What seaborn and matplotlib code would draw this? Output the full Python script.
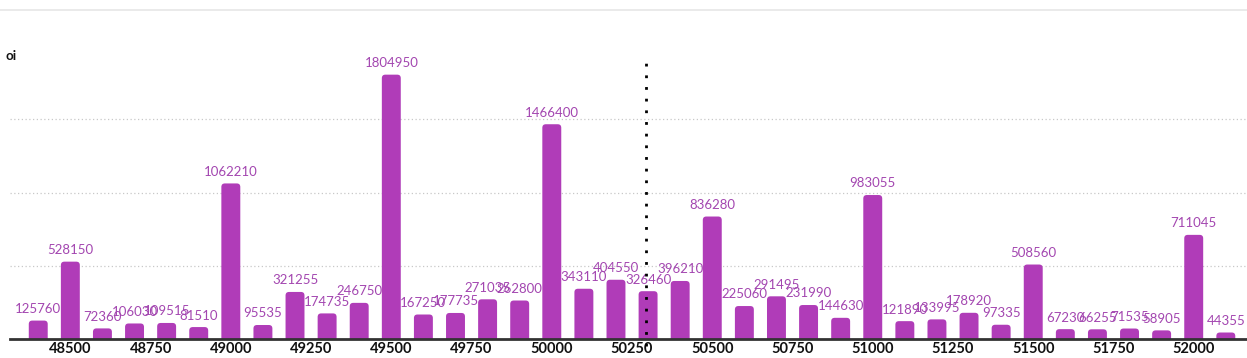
import matplotlib
matplotlib.use("Agg")
import matplotlib.pyplot as plt
import seaborn as sns
import pandas as pd
from matplotlib.lines import Line2D
from matplotlib.patches import FancyBboxPatch

strikes = [48400, 48500, 48600, 48700, 48800, 48900, 49000, 49100, 49200, 49300,
           49400, 49500, 49600, 49700, 49800, 49900, 50000, 50100, 50200, 50300,
           50400, 50500, 50600, 50700, 50800, 50900, 51000, 51100, 51200, 51300,
           51400, 51500, 51600, 51700, 51800, 51900, 52000, 52100]
oi = [125760, 528150, 72360, 106030, 109515, 81510, 1062210, 95535, 321255, 174735,
      246750, 1804950, 167250, 177735, 271035, 262800, 1466400, 343110, 404550, 326460,
      396210, 836280, 225060, 291495, 231990, 144630, 983055, 121890, 133995, 178920,
      97335, 508560, 67230, 66255, 71535, 58905, 711045, 44355]
tick_values = [48500, 48750, 49000, 49250, 49500, 49750, 50000, 50250, 50500, 50750,
               51000, 51250, 51500, 51750, 52000]
grid_values = [500000, 1000000, 1500000]
spot = 50295

df = pd.DataFrame({"strike": strikes, "oi": oi})

sns.set_theme(style="white")
plt.rcParams['font.family'] = ['Lato', 'DejaVu Sans']

W, H = 1247, 358
fig = plt.figure(figsize=(W / 100, H / 100), dpi=100)
ax = fig.add_axes([10 / W, (H - 339) / H, (W - 10) / W, (339 - 60) / H])

sns.barplot(data=df, x="strike", y="oi", native_scale=True, width=0.59,
            color="#B03CB8", saturation=1, ax=ax, zorder=3)

ax.set_xlim(48312, 52166)
ax.set_ylim(0, 1905000)

for c in ax.containers:
    ax.bar_label(c, labels=[str(v) for v in oi], padding=4, fontsize=9.5,
                 color="#A346B0")

# round the top corners of the bars
fig.canvas.draw()
bbox = ax.get_window_extent()
xu_per_px = (52166 - 48312) / bbox.width
yu_per_px = 1905000 / bbox.height
r_px = 3.5
r_x = r_px * xu_per_px
aspect = yu_per_px / xu_per_px
for p in list(ax.patches):
    x0, w, h = p.get_x(), p.get_width(), p.get_height()
    fc = p.get_facecolor()
    p.remove()
    fb = FancyBboxPatch((x0, -r_px * yu_per_px), w, h + r_px * yu_per_px,
                        boxstyle=f"round,pad=0,rounding_size={r_x}",
                        mutation_aspect=aspect, facecolor=fc, edgecolor="none",
                        zorder=3)
    ax.add_patch(fb)

ax.set_xticks(tick_values)
ax.set_xticklabels([str(t) for t in tick_values], fontsize=10.5, fontweight="bold",
                   color="#111111")
ax.tick_params(axis="x", length=0, pad=2)
ax.set_yticks([])
ax.set_xlabel("")
ax.set_ylabel("")

for g in grid_values:
    ax.axhline(g, color="#c8c8c8", lw=0.9, ls=(0, (1, 2)), zorder=1)

for s in ["top", "right", "left"]:
    ax.spines[s].set_visible(False)
ax.spines["bottom"].set_color("#333333")
ax.spines["bottom"].set_linewidth(2)
ax.spines["bottom"].set_zorder(4)

ax.axvline(spot, ymin=-0.025, ymax=1, clip_on=False, color="black", lw=2,
           ls=(0, (1, 3.2)), zorder=5)

fig.text(5 / W, (H - 56) / H, "oi", fontsize=9.5, fontweight="bold",
         color="#111111", va="center", ha="left")
fig.add_artist(Line2D([0, 1], [(H - 9.5) / H] * 2, color="#e6e6e6", lw=1.2,
                      transform=fig.transFigure))

fig.savefig("out.png", dpi=100)
